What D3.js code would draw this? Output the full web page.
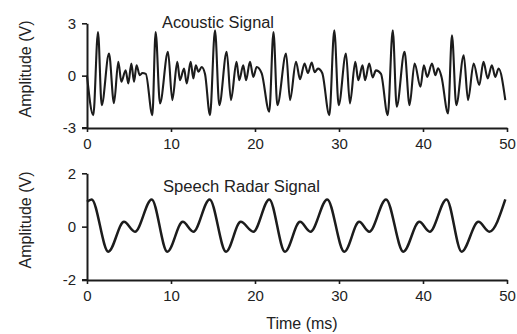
<!DOCTYPE html>
<html>
<head>
<meta charset="utf-8">
<script src="https://cdn.jsdelivr.net/npm/d3@7"></script>
<style>
  html, body { margin: 0; padding: 0; background: #fff; }
  svg { display: block; font-family: "Liberation Sans", Arial, sans-serif; }
</style>
</head>
<body>
<svg id="chart" width="517" height="334"></svg>
<script>
// ---- Data ----
const timeTicks = [0, 10, 20, 30, 40, 50];
const acousticTicks = [-3, 0, 3];
const radarTicks = [-2, 0, 2];

const acousticTime = [
  0.0, 0.75, 1.31, 1.75, 2.62, 3.21, 3.73, 4.09, 4.6, 4.92, 5.28, 5.6, 5.9, 6.27, 6.6, 7.0,
  7.78, 8.17, 8.69, 9.64, 10.16, 10.75, 11.07, 11.55, 11.87, 12.34, 12.66, 12.95, 13.27, 13.65, 14.05,
  14.64, 15.24, 15.75, 16.63, 17.14, 17.8, 18.13, 18.6, 18.93, 19.4, 19.8, 20.2, 20.8,
  21.7, 22.2, 22.66, 23.7, 24.17, 24.88, 25.36, 25.9, 26.3, 26.75, 27.1, 27.5, 28.0,
  28.85, 29.44, 29.96, 30.83, 31.3, 31.94, 32.3, 32.8, 33.1, 33.6, 34.0, 34.4, 35.0,
  35.8, 36.4, 36.87, 37.8, 38.4, 39.0, 39.7, 40.1, 40.5, 41.07, 41.47, 41.8, 42.2,
  42.98, 43.45, 43.96, 44.85, 45.36, 46.03, 46.7, 47.2, 47.7, 48.2, 48.6, 49.0, 49.8
];
const acousticAmp = [
  0.0, -2.26, 2.5, -1.69, 1.27, -1.58, 0.79, -0.35, 0.31, -0.45, 0.7, -0.35, 0.6, 0.03, 0.15, 0.1,
  -2.26, 2.5, -1.59, 1.36, -1.4, 0.79, -0.26, 0.41, -0.45, 0.79, -0.16, 0.6, 0.22, 0.5, 0.1,
  -2.26, 2.6, -1.69, 1.36, -1.4, 0.79, -0.26, 0.6, -0.26, 0.79, -0.07, 0.5, 0.13,
  -2.07, 2.5, -1.69, 1.27, -1.4, 0.79, -0.2, 0.7, 0.15, 0.75, 0.2, 0.4, 0.15,
  -2.26, 2.6, -1.69, 1.27, -1.59, 0.79, -0.26, 0.6, -0.26, 0.7, -0.1, 0.3, 0.1,
  -2.26, 2.6, -1.78, 1.36, -1.69, 0.7, -0.64, 0.6, -0.07, 0.7, 0.03, 0.42, -0.06,
  -2.16, 2.31, -1.69, 1.17, -1.4, 0.7, -0.54, 0.79, -0.16, 0.6, -0.07, 0.41, -1.4
];

const radarTime = [
  0.0, 0.55, 2.54, 4.4, 5.71, 7.7, 9.56, 11.4, 12.66, 14.6, 16.55, 18.3, 19.8,
  21.7, 23.57, 25.36, 26.6, 28.6, 30.63, 32.4, 33.6, 35.6, 37.66, 39.56, 40.8,
  42.8, 44.6, 46.6, 47.9, 49.8
];
const radarAmp = [
  0.93, 1.02, -0.94, 0.18, -0.19, 1.02, -0.94, 0.18, -0.19, 1.02, -0.94, 0.18, -0.19,
  1.02, -0.94, 0.18, -0.19, 1.02, -0.94, 0.18, -0.19, 1.02, -0.94, 0.18, -0.19,
  1.02, -0.94, 0.18, -0.19, 1.02
];

// ---- Drawing ----
const svg = d3.select("#chart");
const ink = "#1c1c1c";

const x = d3.scaleLinear().domain([0, 50]).range([87, 507]);

const panels = [
  { title: "Acoustic Signal", titleX: 162, titleY: 28, titleLen: 112,
    domain: [-3, 3], range: [128, 23.3], ticks: acousticTicks,
    t: acousticTime, v: acousticAmp, width: 2.1, labelY: 69 },
  { title: "Speech Radar Signal", titleX: 163, titleY: 191.5, titleLen: 157,
    domain: [-2, 2], range: [280, 173.3], ticks: radarTicks,
    t: radarTime, v: radarAmp, width: 2.5, labelY: 220 }
];

panels.forEach(p => {
  const y = d3.scaleLinear().domain(p.domain).range(p.range);
  const g = svg.append("g");

  // y axis
  const ya = g.append("g")
    .attr("transform", `translate(${x(0)},0)`)
    .call(d3.axisLeft(y).tickValues(p.ticks).tickSize(5).tickSizeOuter(0).tickPadding(6)
      .tickFormat(d => String(d)));
  // x axis
  const xa = g.append("g")
    .attr("transform", `translate(0,${p.range[0]})`)
    .call(d3.axisBottom(x).tickValues(timeTicks).tickSize(4).tickSizeOuter(0).tickPadding(6)
      .tickFormat(d => String(d)));

  [ya, xa].forEach(a => {
    a.select(".domain").attr("stroke", ink).attr("stroke-width", 2);
    a.selectAll(".tick line").attr("stroke", ink).attr("stroke-width", 1.6);
    a.selectAll(".tick text").attr("fill", "#222").style("font-size", "15px")
      .style("font-family", "'Liberation Sans', Arial, sans-serif");
  });
  // extend x axis slightly left of y axis
  g.append("line")
    .attr("x1", x(0) - 5).attr("x2", x(0))
    .attr("y1", p.range[0]).attr("y2", p.range[0])
    .attr("stroke", ink).attr("stroke-width", 2);

  // signal
  const pts = p.t.map((t, i) => [t, p.v[i]]);
  const line = d3.line().x(d => x(d[0])).y(d => y(d[1])).curve(d3.curveMonotoneX);
  g.append("path").datum(pts)
    .attr("d", line)
    .attr("fill", "none")
    .attr("stroke", ink)
    .attr("stroke-width", p.width)
    .attr("stroke-linejoin", "round");

  // panel title
  g.append("text")
    .attr("x", p.titleX).attr("y", p.titleY)
    .attr("fill", "#222")
    .style("font-size", "16px")
    .attr("textLength", p.titleLen)
    .attr("lengthAdjust", "spacingAndGlyphs")
    .text(p.title);

  // y label
  g.append("text")
    .attr("transform", `translate(31,${p.labelY}) rotate(-90)`)
    .attr("text-anchor", "middle")
    .attr("fill", "#222")
    .style("font-size", "16px")
    .text("Amplitude (V)");
});

svg.append("text")
  .attr("x", 302).attr("y", 329)
  .attr("text-anchor", "middle")
  .attr("fill", "#222")
  .style("font-size", "16px")
  .text("Time (ms)");
</script>
</body>
</html>
